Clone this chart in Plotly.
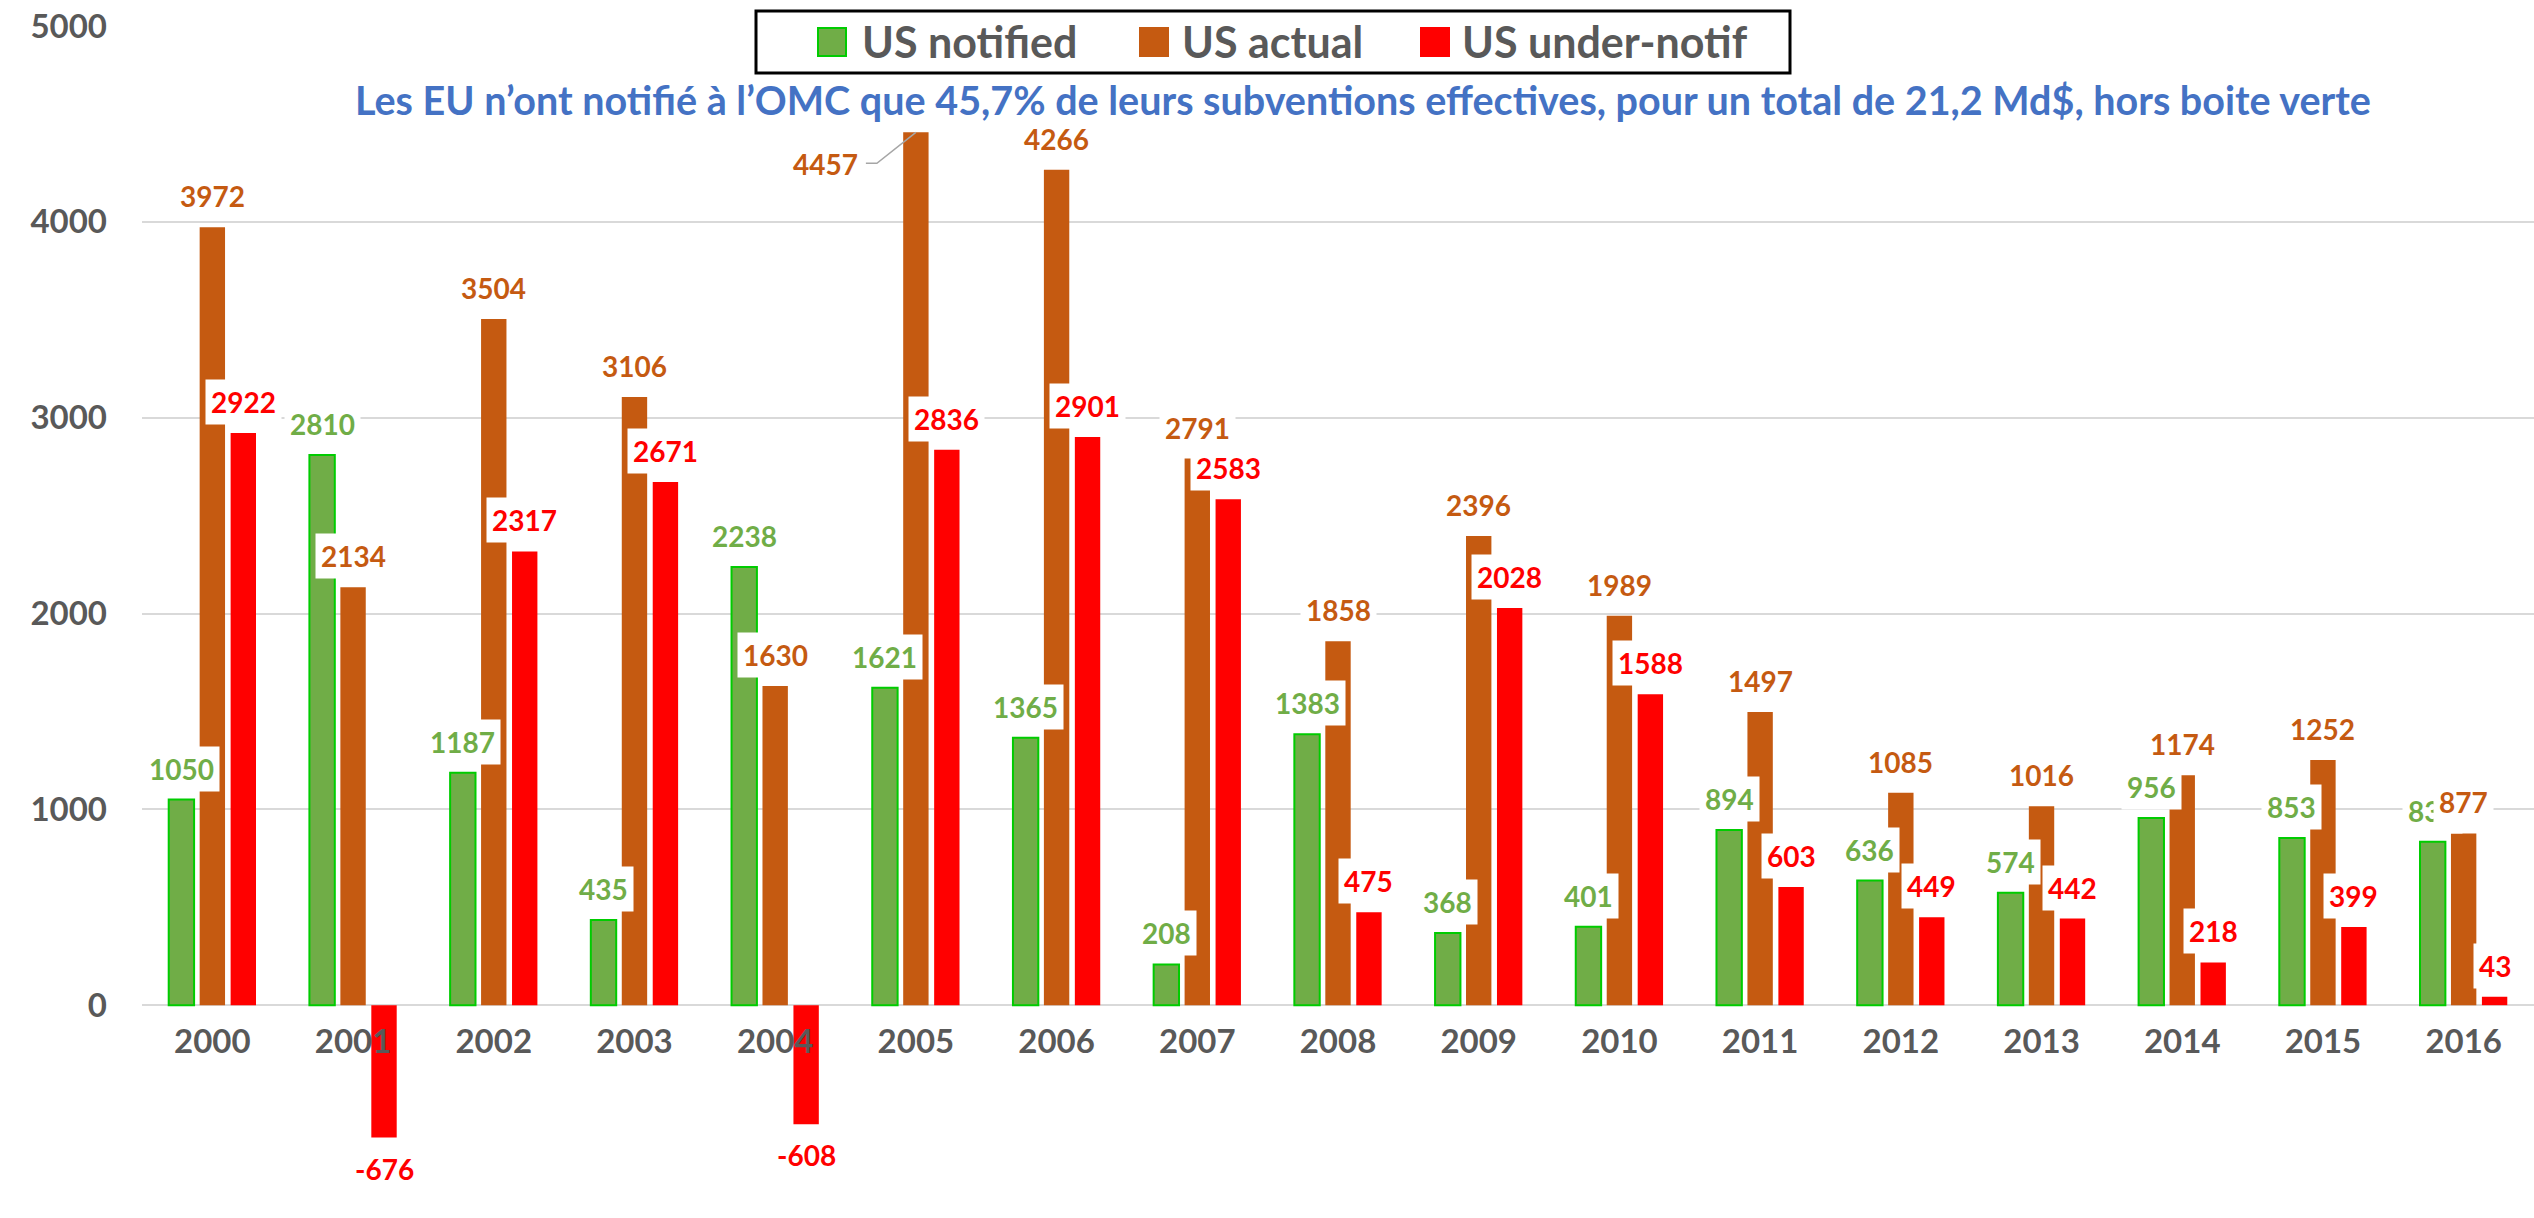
import plotly.graph_objects as go

# ---------------- data ----------------
years = ["2000", "2001", "2002", "2003", "2004", "2005", "2006", "2007", "2008",
         "2009", "2010", "2011", "2012", "2013", "2014", "2015", "2016"]
us_notified = [1050, 2810, 1187, 435, 2238, 1621, 1365, 208, 1383, 368, 401, 894, 636, 574, 956, 853, 834]
us_actual = [3972, 2134, 3504, 3106, 1630, 4457, 4266, 2791, 1858, 2396, 1989, 1497, 1085, 1016, 1174, 1252, 877]
us_under = [2922, -676, 2317, 2671, -608, 2836, 2901, 2583, 475, 2028, 1588, 603, 449, 442, 218, 399, 43]
series_names = ["US notified", "US actual", "US under-notif"]
y_ticks = [-1000, 0, 1000, 2000, 3000, 4000, 5000]
title_text = ("Les EU n’ont notifié à l’OMC que 45,7% de leurs subventions effectives, "
              "pour un total de 21,2 Md$, hors boite verte")

# ---------------- style ----------------
W, H = 2534, 1218
ML, MR, MT, MB = 142, 0, 26, 17
PW, PH = W - ML - MR, H - MT - MB
FONT = "Lato, 'Open Sans', sans-serif"
GRAY = "#595959"
fills = ["#70AD47", "#C55A11", "#FF0000"]
outlines = ["#00CC00", "#C55A11", "#FF0000"]
outline_w = [2, 0, 0]
label_colors = ["#70AD47", "#C55A11", "#FF0000"]
BARGAP = 0.34
SLOT = (1 - BARGAP) / 3
LABEL_OFFSET = 31
# labels moved by hand in the original (series index, category index) -> (dx, dy) px
label_moves = {(1, 5): (-90, -32)}


def px_x(px):
    return (px - ML) / PW


def px_y(py):
    return (H - MB - py) / PH


values = [us_notified, us_actual, us_under]

fig = go.Figure()
for k in range(3):
    fig.add_trace(go.Bar(
        x=years, y=values[k], name=series_names[k],
        marker=dict(color=fills[k], line=dict(color=outlines[k], width=outline_w[k])),
        showlegend=False,
    ))

annotations = []
# data labels: series order so later series' boxes sit above earlier ones
for k in range(3):
    for i, v in enumerate(values[k]):
        dx, dy = label_moves.get((k, i), (0, LABEL_OFFSET if v >= 0 else -LABEL_OFFSET))
        annotations.append(dict(
            x=i + (k - 1) * SLOT, xref="x", y=v, yref="y",
            xshift=dx, yshift=dy, text=f"<b>{v}</b>", showarrow=False,
            xanchor="center", yanchor="middle",
            font=dict(family=FONT, size=28, color=label_colors[k]),
            bgcolor="white", borderpad=5,
        ))

# title
annotations.append(dict(
    x=px_x(1363), y=px_y(99), xref="paper", yref="paper", text=f"<b>{title_text}</b>",
    showarrow=False, xanchor="center", yanchor="middle",
    font=dict(family=FONT, size=39.5, color="#4472C4"),
))

shapes = []
# leader line for the moved 4457 label
shapes.append(dict(
    type="path", xref="x", yref="y", xsizemode="pixel", ysizemode="pixel",
    xanchor=5, yanchor=us_actual[5], path="M0,0 L-39,-31 L-50,-31",
    line=dict(color="#A6A6A6", width=1.5), layer="above",
))

# custom legend
shapes.append(dict(
    type="rect", xref="paper", yref="paper",
    x0=px_x(756), x1=px_x(1790), y0=px_y(73), y1=px_y(11),
    fillcolor="white", line=dict(color="black", width=3), layer="above",
))
legend_items = [(818, 860), (1140, 1180), (1421, 1460)]
for k, (sx, tx) in enumerate(legend_items):
    shapes.append(dict(
        type="rect", xref="paper", yref="paper",
        x0=px_x(sx), x1=px_x(sx + 28), y0=px_y(56), y1=px_y(28),
        fillcolor=fills[k], line=dict(color=outlines[k], width=2), layer="above",
    ))
    annotations.append(dict(
        x=px_x(tx), y=px_y(42), xref="paper", yref="paper", text=f"<b>{series_names[k]}</b>",
        showarrow=False, xanchor="left", yanchor="middle",
        font=dict(family=FONT, size=43, color=GRAY),
    ))

fig.update_layout(
    width=W, height=H, autosize=False,
    margin=dict(l=ML, r=MR, t=MT, b=MB, pad=0),
    paper_bgcolor="white", plot_bgcolor="white",
    barmode="group", bargap=BARGAP, bargroupgap=0.18,
    annotations=annotations, shapes=shapes,
    showlegend=False,
    xaxis=dict(
        type="category", anchor="free", position=1 / 6, layer="above traces",
        showgrid=False, showline=False, ticks="", ticklabelstandoff=14,
        tickfont=dict(family=FONT, size=33, color=GRAY, weight="bold"),
    ),
    yaxis=dict(
        range=[-1000, 5000], tickvals=y_ticks, showgrid=True, gridcolor="#D9D9D9", gridwidth=2,
        zeroline=True, zerolinecolor="#D9D9D9", zerolinewidth=2, showline=False,
        ticks="", ticklabelstandoff=34,
        tickfont=dict(family=FONT, size=33, color=GRAY, weight="bold"),
    ),
)

fig.write_html("out.html", config={"displayModeBar": False},
               post_script="document.body.style.margin='0';")
